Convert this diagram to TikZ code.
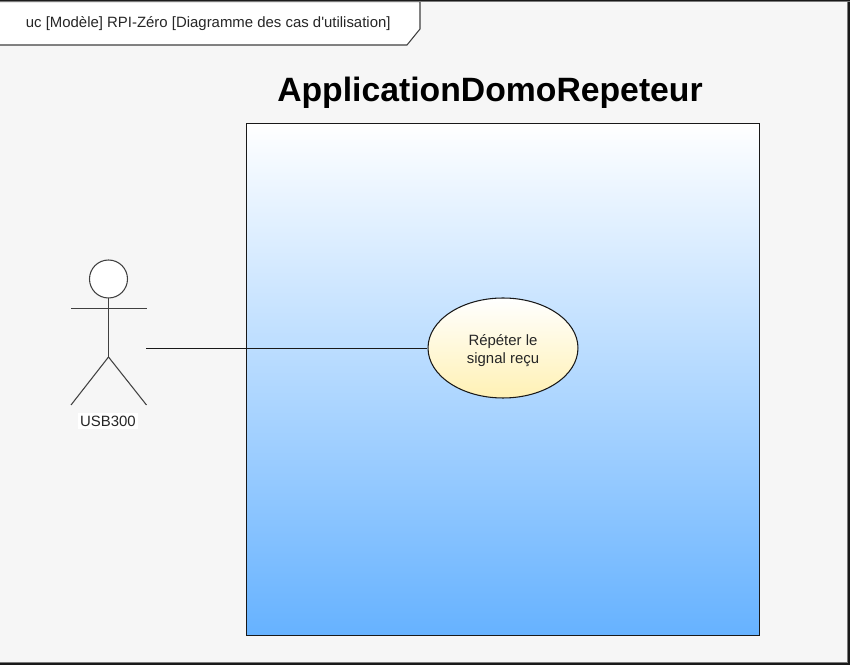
\documentclass[tikz,border=0pt]{standalone}
\usepackage{fontspec}
\setmainfont{Liberation Sans}
\usetikzlibrary{shapes.geometric,positioning,calc}
\definecolor{framebg}{HTML}{F6F6F6}
\definecolor{frameline}{HTML}{7A7A7A}
\definecolor{sysblue}{HTML}{66B2FF}
\definecolor{usecream}{HTML}{FFF1B4}
\definecolor{inktext}{HTML}{262626}
\tikzset{
    system/.style={draw=black!90, line width=0.6pt, top color=white, bottom color=sysblue, minimum width=10.26cm, minimum height=10.25cm, inner sep=0pt},
    usecase/.style={ellipse, draw=black!90, line width=0.6pt, top color=white, bottom color=usecream, minimum width=3cm, minimum height=2cm, inner sep=0pt, align=center, font=\fontsize{8.5}{10.2}\selectfont, text=inktext},
    stickman/.style={draw=black!75, line width=0.6pt},
    tag/.style={font=\fontsize{8.5}{10}\selectfont, text=inktext}
}
\begin{document}
\begin{tikzpicture}[x=0.02cm, y=-0.02cm]
        \useasboundingbox (0,0) rectangle (850,665);
        \fill[black!90] (0,0) rectangle (850,665);
        \fill[framebg, draw=frameline, line width=0.9pt] (-5,1.5) rectangle (847.5,662.5);
        % frame tab
        \draw[fill=white, draw=black!75, line width=0.6pt] (-5,1.5) -- (420,1.5) -- (420,29) -- (407,45) -- (-5,45);
        \draw[frameline, line width=0.9pt] (-5,1.5) -- (850,1.5);
        \node[tag, anchor=west, inner sep=0pt] (frametitle) at (25.5,24) {uc [Modèle] RPI-Zéro [Diagramme des cas d\textquotesingle utilisation]};
        % system
        \node[system] (appbox) at (502.8,379.3) {};
        \node[font=\bfseries\fontsize{19.2}{21}\selectfont] (apptitle) at (490,93) {ApplicationDomoRepeteur};
        % use case
        \node[usecase] (repeat) at (503,348) {\rule{0pt}{9pt}Répéter le\\signal reçu};
        % actor
        \draw[stickman, fill=white] (108.5,279) circle (19) coordinate (head);
        \coordinate (neck) at (108.5,298);
        \coordinate (hip) at (108.5,357);
        \coordinate (lefthand) at (71,308.4);
        \coordinate (righthand) at (146.5,308.4);
        \coordinate (leftfoot) at (71,405);
        \coordinate (rightfoot) at (146.5,405);
        \draw[stickman] (neck) -- (hip);
        \draw[stickman] (lefthand) -- (righthand);
        \draw[stickman] (leftfoot) -- (hip) -- (rightfoot);
        \node[tag, fill=white, inner sep=1.5pt] (usblabel) at (108,421) {USB300};
        % link
        \coordinate (actorlink) at (146,348);
        \draw[black!90, line width=0.55pt] (actorlink) -- (repeat);
    \end{tikzpicture}
\end{document}
